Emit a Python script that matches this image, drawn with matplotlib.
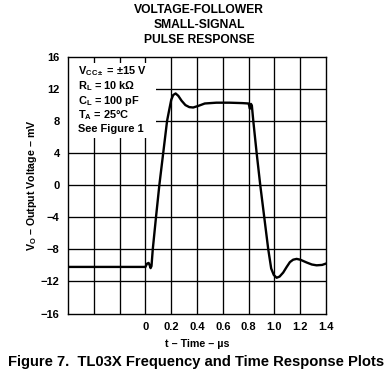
import matplotlib
matplotlib.use("Agg")
import matplotlib.pyplot as plt
from matplotlib.patches import Rectangle

plt.rcParams['font.family'] = ['Liberation Sans', 'DejaVu Sans']
plt.rcParams['font.weight'] = 'bold'
plt.rcParams['mathtext.fontset'] = 'custom'
plt.rcParams['mathtext.rm'] = 'Liberation Sans:bold'
plt.rcParams['mathtext.it'] = 'Liberation Sans:bold'
plt.rcParams['mathtext.bf'] = 'Liberation Sans:bold'
plt.rcParams['axes.unicode_minus'] = True

# Data (time in microseconds, output voltage in mV)
t_us = [-0.6, 0.0, 0.012, 0.025, 0.033, 0.04, 0.047, 0.057, 0.082, 0.108, 0.138,
        0.168, 0.185, 0.2, 0.215, 0.234, 0.255, 0.28, 0.31, 0.34, 0.37, 0.41,
        0.46, 0.55, 0.65, 0.75, 0.80, 0.81, 0.818, 0.825, 0.836, 0.862, 0.89,
        0.921, 0.952, 0.975, 0.995, 1.017, 1.04, 1.068, 1.095, 1.12, 1.145,
        1.172, 1.2, 1.25, 1.29, 1.327, 1.37, 1.405]
vo_mv = [-10.2, -10.2, -9.8, -9.7, -10.0, -10.35, -10.1, -8.0, -4.0, 0.0, 4.0,
         8.0, 9.4, 10.6, 11.2, 11.4, 11.1, 10.5, 9.95, 9.7, 9.65, 9.85,
         10.15, 10.25, 10.25, 10.2, 10.15, 9.5, 10.1, 9.9, 8.0, 4.0, 0.0,
         -4.0, -8.0, -10.4, -11.2, -11.55, -11.4, -10.9, -10.2, -9.6, -9.3,
         -9.2, -9.3, -9.65, -9.9, -10.0, -9.95, -9.75]

x_ticks = [0, 0.2, 0.4, 0.6, 0.8, 1.0, 1.2, 1.4]
x_tick_labels = ['0', '0.2', '0.4', '0.6', '0.8', '1.0', '1.2', '1.4']
x_grid = [-0.4, -0.2, 0, 0.2, 0.4, 0.6, 0.8, 1.0, 1.2]
y_ticks = [-16, -12, -8, -4, 0, 4, 8, 12, 16]

conditions = ["V$_{\\mathrm{CC\\pm}}$ = \u00b115 V",
              "R$_\\mathrm{L}$ = 10 k\u03a9",
              "C$_\\mathrm{L}$ = 100 pF",
              "T$_\\mathrm{A}$ = 25\u00b0C",
              "See Figure 1"]
cond_rows_px = [71.5, 86, 101, 115, 129]

fig = plt.figure(figsize=(3.88, 3.75), dpi=100)
ax = fig.add_axes([0.1753, 0.164, 0.665, 0.6853])
ax.set_xlim(-0.6, 1.4)
ax.set_ylim(-16, 16)

for xv in x_grid:
    ax.axvline(xv, color='black', lw=0.95, zorder=1)
for yv in y_ticks[1:-1]:
    ax.axhline(yv, color='black', lw=0.95, zorder=1)

ax.add_patch(Rectangle((-0.59, 5.8), 0.67, 9.4, facecolor='white',
                       edgecolor='none', zorder=2))

ax.plot(t_us, vo_mv, color='black', lw=1.7, zorder=3)

ax.set_xticks(x_ticks)
ax.set_xticklabels(x_tick_labels)
ax.set_yticks(y_ticks)
ax.tick_params(length=0, labelsize=8, pad=6)
for lab in ax.get_xticklabels() + ax.get_yticklabels():
    lab.set_fontweight('bold')
for s in ax.spines.values():
    s.set_linewidth(1.0)
    s.set_zorder(4)

ax.set_xlabel("t \u2013 Time \u2013 \u00b5s", fontsize=7.7, fontweight='bold', labelpad=5)
ax.set_ylabel("V$_\\mathrm{O}$ \u2013 Output Voltage \u2013 mV", fontsize=7.7,
              fontweight='bold', labelpad=1)

for txt, ypx in zip(conditions, cond_rows_px):
    fig.text(78/388, 1 - ypx/375, txt,
             fontsize=7.9, fontweight='bold', va='center', ha='left', zorder=5)

fig.text(199/388, 1 - 25/375, "VOLTAGE-FOLLOWER\nSMALL-SIGNAL\nPULSE RESPONSE",
         ha='center', va='center', fontsize=8.7, fontweight='bold', linespacing=1.35)

fig.text(196/388, 1 - 362/375, "Figure 7.  TL03X Frequency and Time Response Plots",
         ha='center', va='center', fontsize=10.6, fontweight='bold')

fig.savefig("out.png", dpi=100)
